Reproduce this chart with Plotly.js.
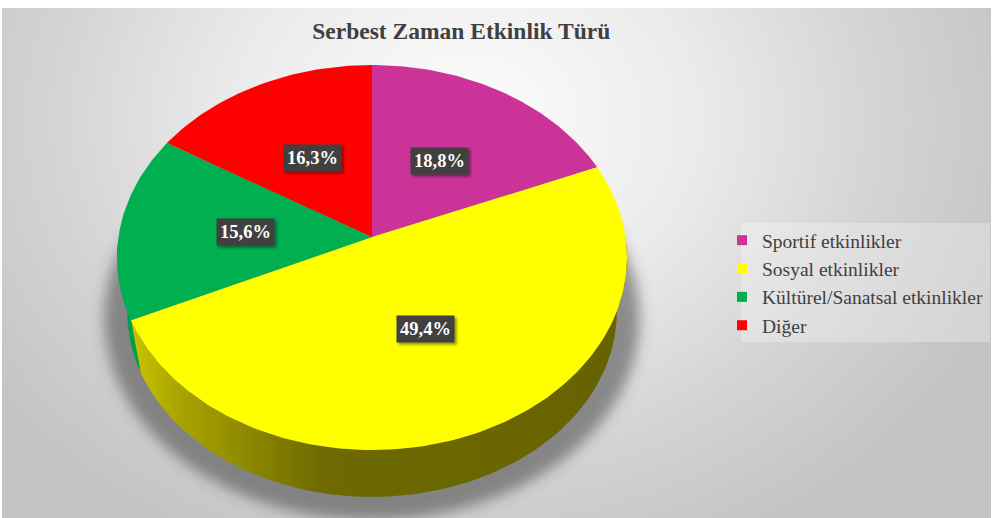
<!DOCTYPE html>
<html>
<head>
<meta charset="utf-8">
<script src="https://cdn.plot.ly/plotly-3.0.1.min.js"></script>
<style>
  html, body { margin: 0; padding: 0; background: #ffffff; }
  #wrap { position: relative; width: 993px; height: 518px; overflow: hidden; }
  #bg {
    position: absolute; left: 2px; top: 8px; width: 989px; height: 510px;
    background: radial-gradient(ellipse 58% 92% at 47% 22%, #fdfdfd 0%, #ebebeb 40%, #d4d4d4 72%, #c4c4c4 100%);
  }
  #chart { position: absolute; left: 0; top: 0; width: 993px; height: 518px; }
  #fx { position: absolute; width: 0; height: 0; }
</style>
</head>
<body>
<svg id="fx" aria-hidden="true">
  <defs>
    <filter id="softShadow" x="-20%" y="-20%" width="140%" height="140%">
      <feGaussianBlur stdDeviation="7"/>
    </filter>
    <filter id="boxShadow" x="-20%" y="-30%" width="150%" height="170%">
      <feDropShadow dx="2" dy="2" stdDeviation="1.5" flood-color="#000" flood-opacity="0.45"/>
    </filter>
  </defs>
</svg>
<div id="wrap">
  <div id="bg"></div>
  <div id="chart"></div>
</div>
<script>
// Leisure activity types (percent shares)
const categories = ['Sportif etkinlikler', 'Sosyal etkinlikler', 'Kültürel/Sanatsal etkinlikler', 'Diğer'];
const shares = [18.8, 49.4, 15.6, 16.3];
const labels = ['18,8%', '49,4%', '15,6%', '16,3%'];
const topColors = ['#cc3399', '#ffff00', '#00b050', '#ff0000'];
const wallScales = [
  [[0, '#b0307f'], [1, '#6a1a4f']],
  [[0, '#d2cd00'], [0.12, '#aaa400'], [0.4, '#6e6a00'], [1, '#666200']],
  [[0, '#00a04a'], [1, '#005a2a']],
  [[0, '#c00000'], [1, '#700000']]
];

// Perspective view of a flat disc, in pixel units (x right, y down).
// Angles run clockwise from 12 o'clock; v > 0 points away from the viewer.
const W = 993, H = 518;
const cx = 372, cy = 237;   // projected centre of the top face (slice apex)
const A = 253.5, B = 190.3; // horizontal / vertical scale of the top face
const k = 0.1065;           // perspective strength
const bottomScale = 0.96, bottomCy = 292.5; // lower rim of the disc

function project(deg, r, scale, oy) {
  const t = deg * Math.PI / 180;
  const u = r * Math.sin(t), v = r * Math.cos(t);
  const d = 1 + k * v;
  return [cx + scale * A * u / d, oy - scale * B * v / d];
}
const topPt = (deg, r) => project(deg, r, 1, cy);
const botPt = (deg) => project(deg, 1, bottomScale, bottomCy);

function path(a0, a1, f) {
  const xs = [], ys = [];
  const n = Math.max(2, Math.ceil(Math.abs(a1 - a0)));
  for (let i = 0; i <= n; i++) {
    const p = f(a0 + (a1 - a0) * i / n);
    xs.push(p[0]); ys.push(p[1]);
  }
  return [xs, ys];
}

const total = shares.reduce((s, v) => s + v, 0);
const starts = [], ends = [];
let acc = 0;
shares.forEach(v => { starts.push(acc / total * 360); acc += v; ends.push(acc / total * 360); });

const traces = [];

// soft shadow cast under the disc
{
  const sh = path(0, 360, d => project(d, 1, 1.05, bottomCy + 4));
  traces.push({
    type: 'scatter', mode: 'lines', x: sh[0], y: sh[1], fill: 'toself',
    fillcolor: 'rgba(70,70,70,0.55)', line: { width: 0 },
    hoverinfo: 'skip', showlegend: false
  });
}

// front wall of each slice (the half facing the viewer)
shares.forEach((v, i) => {
  const s = Math.max(starts[i], 90), e = Math.min(ends[i], 270);
  if (e <= s) return;
  const top = path(s, e, d => topPt(d, 1));
  const bot = path(e, s, botPt);
  traces.push({
    type: 'scatter', mode: 'lines',
    x: top[0].concat(bot[0]), y: top[1].concat(bot[1]),
    fill: 'toself', fillcolor: topColors[i],
    fillgradient: { type: 'horizontal', start: cx - A, stop: cx + A, colorscale: wallScales[i] },
    line: { width: 0 }, hoverinfo: 'skip', showlegend: false
  });
});

// top faces of the slices
shares.forEach((v, i) => {
  const a = path(starts[i], ends[i], d => topPt(d, 1));
  traces.push({
    type: 'scatter', mode: 'lines',
    x: [cx].concat(a[0], [cx]), y: [cy].concat(a[1], [cy]),
    fill: 'toself', fillcolor: topColors[i], line: { width: 0 },
    name: categories[i], text: labels[i], hoverinfo: 'name+text',
    showlegend: false
  });
});

// legend entries
categories.forEach((c, i) => {
  traces.push({
    type: 'scatter', mode: 'markers', x: [null], y: [null], name: c,
    legendgroup: 'g' + i,
    marker: { symbol: 'square', size: 10, color: topColors[i] },
    showlegend: true, hoverinfo: 'skip'
  });
});

// percentage labels at half radius along each slice's mid angle
const annotations = shares.map((v, i) => {
  const p = topPt((starts[i] + ends[i]) / 2, 0.5);
  return {
    x: p[0], y: p[1], xref: 'x', yref: 'y', text: '<b>' + labels[i] + '</b>',
    showarrow: false, bgcolor: '#404040', borderpad: 3,
    font: { family: 'Liberation Serif, Times New Roman, serif', size: 18.5, color: '#ffffff' }
  };
});

const layout = {
  width: W, height: H,
  margin: { l: 0, r: 0, t: 0, b: 0 },
  paper_bgcolor: 'rgba(0,0,0,0)', plot_bgcolor: 'rgba(0,0,0,0)',
  xaxis: { range: [0, W], visible: false, fixedrange: true },
  yaxis: { range: [H, 0], visible: false, fixedrange: true },
  title: {
    text: '<b>Serbest Zaman Etkinlik Türü</b>',
    x: 0.4645, xref: 'paper', xanchor: 'center',
    y: 1 - 31 / H, yref: 'container', yanchor: 'middle',
    font: { family: 'Liberation Serif, Times New Roman, serif', size: 23.5, color: '#404040' }
  },
  showlegend: true,
  legend: {
    x: 722 / W, xanchor: 'left', y: 1 - 221 / H, yanchor: 'top',
    bgcolor: 'rgba(0,0,0,0)', borderwidth: 0,
    traceorder: 'grouped', tracegroupgap: 0, itemwidth: 30,
    font: { family: 'Liberation Serif, Times New Roman, serif', size: 19.5, color: '#404040' }
  },
  shapes: [{
    type: 'rect', xref: 'paper', yref: 'paper', layer: 'below',
    x0: 741 / W, x1: 990 / W, y0: 1 - 342 / H, y1: 1 - 223 / H,
    fillcolor: 'rgba(255,255,255,0.28)', line: { width: 0 }
  }],
  annotations: annotations,
  hovermode: 'closest'
};

Plotly.newPlot('chart', traces, layout, { displayModeBar: false }).then(gd => {
  const first = gd.querySelector('.scatterlayer .trace');
  if (first) first.querySelectorAll('path').forEach(p => p.setAttribute('filter', 'url(#softShadow)'));
  gd.querySelectorAll('.annotation rect.bg').forEach(r => r.setAttribute('filter', 'url(#boxShadow)'));
});
</script>
</body>
</html>
